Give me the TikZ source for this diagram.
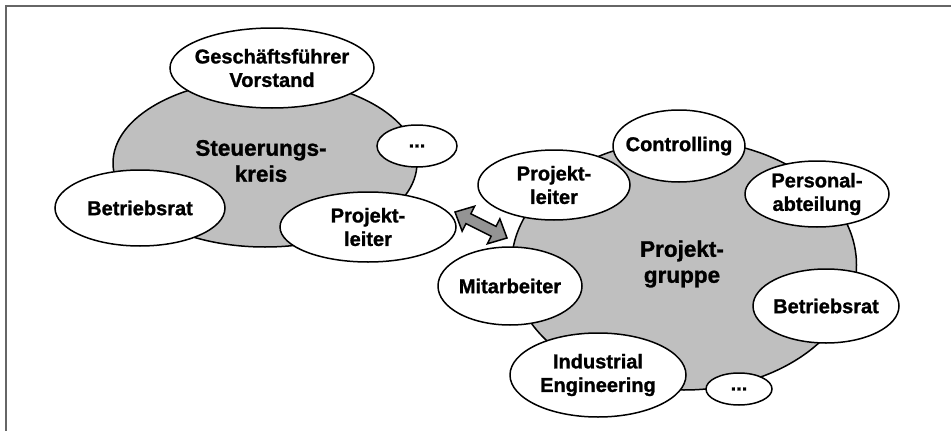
\documentclass[tikz,border=0pt]{standalone}
\usepackage{fontspec}
\setmainfont[BoldFeatures={FakeBold=1.2}]{Liberation Sans}
\usetikzlibrary{shapes.geometric,calc}
\tikzset{
  grp/.style={ellipse, draw=black, line width=1.5pt, fill=black!25, inner sep=0pt},
  oval/.style={ellipse, draw=black, line width=1.5pt, fill=white, inner sep=0pt},
  smalltxt/.style={font=\bfseries\fontsize{20}{23.5}\selectfont, align=center, inner sep=0pt},
  bigtxt/.style={font=\bfseries\fontsize{22.5}{26}\selectfont, align=center, inner sep=0pt},
  framelines/.style={draw=black!60, line width=2pt},
  dblarrow/.style={draw=black, line width=1.5pt, fill=black!42, line join=miter}
}
\begin{document}
\begin{tikzpicture}[x=1pt,y=-1pt]
\useasboundingbox (0,0) rectangle (951,431);
\draw[framelines] (6,431) -- (6,6) -- (951,6);

% big group ellipses
\node[grp, minimum width=304pt, minimum height=168pt] (sk) at (265,163) {};
\node[grp, minimum width=345pt, minimum height=250pt] (pg) at (684,265) {};

% Steuerungskreis members
\node[oval, minimum width=204pt, minimum height=80pt, label={[smalltxt]center:Geschäftsführer\\Vorstand}] (gf) at (272,68) {};
\node[oval, minimum width=80pt, minimum height=42pt, label={[smalltxt]center:...}] (dots1) at (417,146) {};
\node[oval, minimum width=170pt, minimum height=76pt, label={[smalltxt]center:Betriebsrat}] (br1) at (140,208) {};
\node[oval, minimum width=176pt, minimum height=70pt, label={[smalltxt]center:Projekt-\\leiter}] (pl1) at (368,227) {};
\node[bigtxt] (sktxt) at (261,161) {Steuerungs-\\kreis};

% Projektgruppe members
\node[oval, minimum width=152pt, minimum height=70pt, label={[smalltxt]center:Projekt-\\leiter}] (pl2) at (554,185) {};
\node[oval, minimum width=132pt, minimum height=72pt, label={[smalltxt]center:Controlling}] (ctrl) at (679,146) {};
\node[oval, minimum width=144pt, minimum height=66pt, label={[smalltxt]center:Personal-\\abteilung}] (pers) at (817,194) {};
\node[oval, minimum width=144pt, minimum height=78pt, label={[smalltxt]center:Mitarbeiter}] (mit) at (510,286) {};
\node[oval, minimum width=146pt, minimum height=74pt, label={[smalltxt]center:Betriebsrat}] (br2) at (826,306) {};
\node[oval, minimum width=176pt, minimum height=84pt, label={[smalltxt]center:Industrial\\Engineering}] (ie) at (598,375) {};
\node[oval, minimum width=66pt, minimum height=32pt, label={[smalltxt]center:...}] (dots2) at (739,389) {};
\node[bigtxt] (pgtxt) at (682,264) {Projekt-\\gruppe};

% double arrow between the two groups
\coordinate (A) at (455,212);
\coordinate (B) at (507,238);
\draw[dblarrow]
  (A)
  -- ($(A)!15pt!(B)!14pt!90:(B)$)
  -- ($(A)!15pt!(B)!5.5pt!90:(B)$)
  -- ($(B)!15pt!(A)!5.5pt!-90:(A)$)
  -- ($(B)!15pt!(A)!14pt!-90:(A)$)
  -- (B)
  -- ($(B)!15pt!(A)!14pt!90:(A)$)
  -- ($(B)!15pt!(A)!5.5pt!90:(A)$)
  -- ($(A)!15pt!(B)!5.5pt!-90:(B)$)
  -- ($(A)!15pt!(B)!14pt!-90:(B)$)
  -- cycle;
\end{tikzpicture}
\end{document}
